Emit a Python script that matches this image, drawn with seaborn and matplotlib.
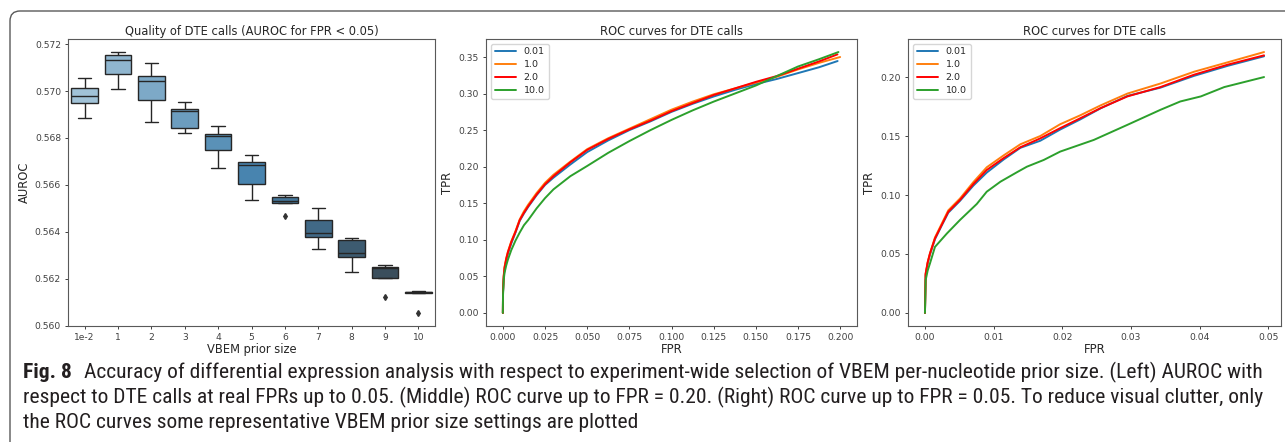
import numpy as np
import pandas as pd
import matplotlib
matplotlib.use("Agg")
import matplotlib.pyplot as plt
import seaborn as sns
from matplotlib import font_manager as fm
from matplotlib.patches import FancyBboxPatch
from matplotlib.transforms import IdentityTransform

# ---------------- data ----------------
prior_labels = ["1e-2", "1", "2", "3", "4", "5", "6", "7", "8", "9", "10"]
# per prior size: whisker-low (or flier), q1, median, q3, whisker-high
box_low   = [0.56884, 0.57008, 0.56867, 0.56820, 0.56674, 0.56535, 0.56466, 0.56327, 0.56230, 0.56125, 0.56055]
box_q1    = [0.56947, 0.57072, 0.56961, 0.56842, 0.56748, 0.56604, 0.56523, 0.56377, 0.56293, 0.56203, 0.56141]
box_med   = [0.56980, 0.57133, 0.57042, 0.56914, 0.56810, 0.56684, 0.56532, 0.56394, 0.56311, 0.56245, 0.56144]
box_q3    = [0.57012, 0.57152, 0.57066, 0.56924, 0.56816, 0.56697, 0.56549, 0.56449, 0.56364, 0.56249, 0.56146]
box_high  = [0.57055, 0.57166, 0.57118, 0.56955, 0.56849, 0.56727, 0.56556, 0.56502, 0.56374, 0.56260, 0.56149]

series_names = ["0.01", "1.0", "2.0", "10.0"]
series_colors = ["#1f77b4", "#ff7f0e", "red", "#2ca02c"]

# middle panel (FPR up to 0.20)
mid_fpr = [0, 0.0001, 0.0005, 0.001, 0.002, 0.003, 0.005, 0.0075, 0.01, 0.0125, 0.015, 0.02, 0.025,
           0.03, 0.04, 0.05, 0.0625, 0.075, 0.0875, 0.1, 0.1125, 0.125, 0.1375, 0.15, 0.1625, 0.175, 0.1875]
mid_end_fpr = [0.1985, 0.2, 0.1984, 0.199]
mid_tpr_001 = [0, 0.028, 0.048, 0.060, 0.072, 0.081, 0.095, 0.110, 0.126, 0.136, 0.145, 0.161, 0.175,
               0.185, 0.203, 0.220, 0.236, 0.250, 0.262, 0.275, 0.286, 0.296, 0.305, 0.313, 0.320, 0.328, 0.336, 0.3445]
mid_tpr_1 = [0, 0.030, 0.051, 0.063, 0.075, 0.084, 0.098, 0.112, 0.128, 0.139, 0.148, 0.164, 0.178,
             0.189, 0.207, 0.224, 0.239, 0.252, 0.265, 0.278, 0.289, 0.299, 0.307, 0.315, 0.323, 0.333, 0.342, 0.350]
mid_tpr_2 = [0, 0.030, 0.050, 0.062, 0.074, 0.083, 0.097, 0.111, 0.127, 0.137, 0.146, 0.162, 0.176,
             0.187, 0.206, 0.223, 0.238, 0.251, 0.263, 0.276, 0.287, 0.298, 0.307, 0.316, 0.324, 0.334, 0.344, 0.3536]
mid_tpr_10 = [0, 0.025, 0.045, 0.055, 0.065, 0.073, 0.086, 0.099, 0.110, 0.120, 0.127, 0.143, 0.157,
              0.169, 0.187, 0.201, 0.219, 0.235, 0.250, 0.264, 0.277, 0.289, 0.300, 0.311, 0.324, 0.337, 0.347, 0.3568]

# right panel (FPR up to 0.05)
r_fpr = [0, 0.0001, 0.0004, 0.00073, 0.00146, 0.00243, 0.0034, 0.0051, 0.00706, 0.009, 0.01144, 0.0139,
         0.0168, 0.0197, 0.0226, 0.0256, 0.0295, 0.0343, 0.0392, 0.0441, 0.0494]
r_tpr_001 = [0, 0.0320, 0.0420, 0.0495, 0.0625, 0.0740, 0.0850, 0.0950, 0.1080, 0.1190, 0.1300, 0.1400,
             0.1460, 0.1555, 0.1640, 0.1735, 0.1840, 0.1910, 0.2010, 0.2095, 0.2176]
r_tpr_1 = [0, 0.0330, 0.0430, 0.0505, 0.0640, 0.0755, 0.0870, 0.0970, 0.1110, 0.1235, 0.1335, 0.1430,
           0.1500, 0.1600, 0.1675, 0.1760, 0.1860, 0.1945, 0.2045, 0.2125, 0.2212]
r_tpr_2 = [0, 0.0334, 0.0430, 0.0504, 0.0632, 0.0745, 0.0858, 0.0958, 0.1093, 0.1212, 0.1312, 0.1405,
           0.1480, 0.1567, 0.1650, 0.1737, 0.1836, 0.1915, 0.2020, 0.2105, 0.2184]
r_fpr_10 = [0, 0.0001, 0.0004, 0.00073, 0.00146, 0.0032, 0.0051, 0.00755, 0.009, 0.011, 0.0134, 0.01485,
            0.0173, 0.0197, 0.0246, 0.0295, 0.0343, 0.0372, 0.0402, 0.0436, 0.0494]
r_tpr_10 = [0, 0.0278, 0.0360, 0.0420, 0.0560, 0.0674, 0.0788, 0.0924, 0.1028, 0.1113, 0.1193, 0.1240,
            0.1297, 0.1368, 0.1467, 0.1595, 0.1722, 0.1793, 0.1836, 0.1915, 0.2000]

caption_lines = [
    "Accuracy of differential expression analysis with respect to experiment-wide selection of VBEM per-nucleotide prior size. (Left) AUROC with",
    "respect to DTE calls at real FPRs up to 0.05. (Middle) ROC curve up to FPR = 0.20. (Right) ROC curve up to FPR = 0.05. To reduce visual clutter, only",
    "the ROC curves some representative VBEM prior size settings are plotted",
]
caption_label = "Fig. 8"

# ---------------- style ----------------
sns.set_style("ticks")
plt.rcParams["font.family"] = ["DejaVu Sans"]
plt.rcParams.update({
    "axes.edgecolor": "0.35",
    "axes.linewidth": 0.8,
    "xtick.color": "0.25",
    "ytick.color": "0.25",
    "xtick.major.size": 2.5,
    "ytick.major.size": 2.5,
    "xtick.major.width": 0.7,
    "ytick.major.width": 0.7,
    "xtick.labelsize": 6.6,
    "ytick.labelsize": 6.6,
    "axes.labelsize": 8.3,
    "axes.titlesize": 8.3,
    "axes.labelcolor": "0.15",
    "text.color": "0.15",
    "xtick.major.pad": 2.5,
    "ytick.major.pad": 2.5,
})

W, H = 1285, 442
fig = plt.figure(figsize=(W / 100, H / 100), dpi=100)
fig.patch.set_facecolor("white")

def ax_rect(l, r, t, b):
    return [l / W, 1 - b / H, (r - l) / W, (b - t) / H]

ax1 = fig.add_axes(ax_rect(68, 435, 39, 326))
ax2 = fig.add_axes(ax_rect(486, 857, 39, 326))
ax3 = fig.add_axes(ax_rect(908, 1281, 39, 326))
for a in (ax1, ax2, ax3):
    for s in a.spines.values():
        s.set_visible(True)

# ---------------- left: boxplot ----------------
rows = []
for i, lab in enumerate(prior_labels):
    vals = [box_low[i], box_q1[i], box_q1[i], box_med[i], box_q3[i], box_q3[i], box_high[i]]
    for v in vals:
        rows.append({"prior": lab, "auroc": v})
df_box = pd.DataFrame(rows)
sns.boxplot(data=df_box, x="prior", y="auroc", hue="prior", order=prior_labels,
            hue_order=prior_labels, palette="Blues_d", legend=False, ax=ax1,
            width=0.8, linewidth=1.0,
            flierprops=dict(marker="d", markersize=3, markerfacecolor="0.2",
                            markeredgecolor="0.2"))
yt1 = np.arange(0.560, 0.5721, 0.002)
ax1.set_yticks(yt1)
ax1.set_yticklabels([f"{v:.3f}" for v in yt1])
ax1.set_xlabel("VBEM prior size", labelpad=1)
ax1.set_ylabel("AUROC", labelpad=3)
ax1.set_title("Quality of DTE calls (AUROC for FPR < 0.05)", pad=3)

# ---------------- ROC panels ----------------
def roc_frame(fprs, tprs):
    parts = []
    for name, f, t in zip(series_names, fprs, tprs):
        parts.append(pd.DataFrame({"FPR": f, "TPR": t, "prior": name}))
    return pd.concat(parts, ignore_index=True)

pal = dict(zip(series_names, series_colors))
df_mid = roc_frame([mid_fpr + [e] for e in mid_end_fpr],
                   [mid_tpr_001, mid_tpr_1, mid_tpr_2, mid_tpr_10])
df_r = roc_frame([r_fpr, r_fpr, r_fpr, r_fpr_10],
                 [r_tpr_001, r_tpr_1, r_tpr_2, r_tpr_10])

for a, d, xt, xfmt, yt in [
    (ax2, df_mid, np.arange(0, 0.2001, 0.025), "{:.3f}", np.arange(0, 0.351, 0.05)),
    (ax3, df_r, np.arange(0, 0.0501, 0.01), "{:.2f}", np.arange(0, 0.201, 0.05)),
]:
    sns.lineplot(data=d, x="FPR", y="TPR", hue="prior", hue_order=series_names,
                 palette=pal, estimator=None, sort=False, units="prior",
                 linewidth=1.4, ax=a)
    a.set_xticks(xt)
    a.set_xticklabels([xfmt.format(v) for v in xt])
    a.set_yticks(yt)
    a.set_yticklabels([f"{v:.2f}" for v in yt])
    a.set_xlabel("FPR", labelpad=1)
    a.set_ylabel("TPR", labelpad=3)
    a.set_title("ROC curves for DTE calls", pad=3)
    a.margins(0.05)
    a.legend(title=None, loc="upper left", fontsize=6.8, handlelength=2.3,
             handletextpad=0.8, borderpad=0.4, labelspacing=0.4, frameon=True)

# ---------------- frame & caption ----------------
frame = FancyBboxPatch((10, -30), 1320, H - 11 + 30,
                       boxstyle="round,pad=0,rounding_size=10",
                       transform=IdentityTransform(), facecolor="none",
                       edgecolor="0.35", linewidth=1.0, clip_on=False)
fig.patches.append(frame)

def has_font(name):
    try:
        fm.findfont(fm.FontProperties(family=name), fallback_to_default=False)
        return True
    except Exception:
        return False

cap_family = next((f for f in ["Liberation Sans Narrow", "Roboto Condensed", "Open Sans Condensed",
                               "Liberation Sans", "Open Sans"] if has_font(f)), "DejaVu Sans")

fig.canvas.draw()
renderer = fig.canvas.get_renderer()

def px_width(t):
    return t.get_window_extent(renderer=renderer).width

base = 10.0
x0 = 23
lab_t = fig.text(x0 / W, 1 - 378 / H, caption_label, fontsize=base, fontweight="bold",
                 family=[cap_family, "DejaVu Sans"], color="#231f20", va="baseline")
t1 = fig.text(0, 0, caption_lines[0], fontsize=base, family=[cap_family, "DejaVu Sans"],
              color="#231f20", va="baseline")
gap = 8
total = px_width(lab_t) + gap + px_width(t1)
scale = (1255 - x0) / total
size = base * scale
lab_t.set_fontsize(size)
t1.set_fontsize(size)
fig.canvas.draw()
lw = px_width(lab_t)
t1.set_position(((x0 + lw + gap * scale) / W, 1 - 378 / H))
t2 = fig.text(x0 / W, 1 - 403 / H, caption_lines[1], fontsize=size,
              family=[cap_family, "DejaVu Sans"], color="#231f20", va="baseline")
t3 = fig.text(x0 / W, 1 - 428 / H, caption_lines[2], fontsize=size,
              family=[cap_family, "DejaVu Sans"], color="#231f20", va="baseline")

fig.savefig("out.png", dpi=100, facecolor="white")
